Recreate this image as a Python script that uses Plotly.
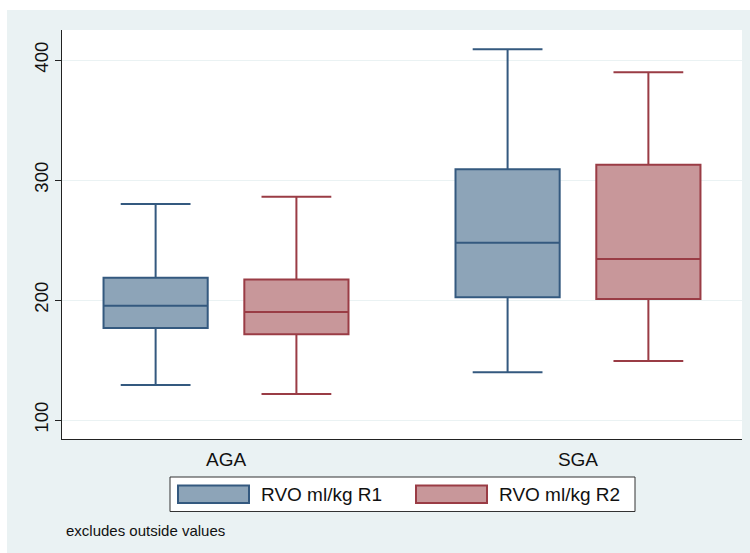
import plotly.graph_objects as go

categories = ["AGA", "SGA"]
series_names = ["RVO ml/kg R1", "RVO ml/kg R2"]

r1_lower = [129.2, 139.7]
r1_q1 = [176.7, 202.2]
r1_median = [195.3, 247.8]
r1_q3 = [218.6, 308.9]
r1_upper = [280.0, 408.9]

r2_lower = [121.7, 149.2]
r2_q1 = [171.4, 200.8]
r2_median = [190.0, 234.2]
r2_q3 = [217.0, 312.8]
r2_upper = [286.0, 389.7]

y_ticks = [100, 200, 300, 400]
note_text = "excludes outside values"

line_colors = ["#34597F", "#9A3C45"]
fill_colors = ["#8DA4B8", "#C8979A"]
BG = "#EAF2F3"
FONT = "Liberation Sans, Arial, sans-serif"

W, H = 750, 553
L, R, T, B = 62, 8, 30, 114
PW, PH = W - L - R, H - T - B


def px(x):
    return (x - L) / PW


def py(y):
    return (H - B - y) / PH


fig = go.Figure()
stats = [
    (r1_lower, r1_q1, r1_median, r1_q3, r1_upper),
    (r2_lower, r2_q1, r2_median, r2_q3, r2_upper),
]
for i, (lo, q1, med, q3, hi) in enumerate(stats):
    fig.add_trace(go.Box(
        name=series_names[i],
        x=categories,
        q1=q1, median=med, q3=q3,
        lowerfence=lo, upperfence=hi,
        fillcolor=fill_colors[i],
        line=dict(color=line_colors[i], width=2),
        whiskerwidth=0.67,
        boxpoints=False,
        showlegend=False,
    ))

shapes = [
    # white strips outside the grey page frame (top and left)
    dict(type="rect", xref="paper", yref="paper",
         x0=px(-5), x1=px(760), y0=py(10), y1=py(-5),
         fillcolor="white", line=dict(width=0), layer="below"),
    dict(type="rect", xref="paper", yref="paper",
         x0=px(-5), x1=px(7), y0=py(560), y1=py(-5),
         fillcolor="white", line=dict(width=0), layer="below"),
    # legend frame
    dict(type="rect", xref="paper", yref="paper",
         x0=px(170), x1=px(635), y0=py(511.5), y1=py(477),
         fillcolor="white", line=dict(color="#333333", width=1)),
]
annotations = []
sym_x = [178, 416]
txt_x = [259, 497]
for i in range(2):
    shapes.append(dict(type="rect", xref="paper", yref="paper",
                       x0=px(sym_x[i]), x1=px(sym_x[i] + 71),
                       y0=py(503), y1=py(485.5),
                       fillcolor=fill_colors[i],
                       line=dict(color=line_colors[i], width=2)))
    annotations.append(dict(xref="paper", yref="paper",
                            x=px(txt_x[i]), y=py(494.5),
                            xanchor="left", yanchor="middle",
                            text=series_names[i], showarrow=False,
                            font=dict(family=FONT, size=19, color="#111111")))
annotations.append(dict(xref="paper", yref="paper",
                        x=px(64), y=py(530), xanchor="left", yanchor="middle",
                        text=note_text, showarrow=False,
                        font=dict(family=FONT, size=15, color="#111111")))

fig.update_layout(
    width=W, height=H,
    margin=dict(l=L, r=R, t=T, b=B),
    paper_bgcolor=BG,
    plot_bgcolor="white",
    boxmode="group",
    boxgap=0.2,
    boxgroupgap=0.26,
    shapes=shapes,
    annotations=annotations,
    font=dict(family=FONT, color="#111111"),
    xaxis=dict(
        range=[-0.466, 1.466],
        showline=True, linecolor="#222222", linewidth=1.2,
        showgrid=False, ticks="",
        tickfont=dict(size=19, family=FONT, color="#111111"),
        ticklabelstandoff=3,
        zeroline=False, fixedrange=True,
    ),
    yaxis=dict(
        range=[84.17, 425],
        tickvals=y_ticks,
        ticktext=[str(v) for v in y_ticks],
        tickangle=-90,
        ticks="outside", ticklen=6, tickcolor="#222222",
        showline=True, linecolor="#222222", linewidth=1.2,
        showgrid=True, gridcolor=BG, gridwidth=1.2,
        tickfont=dict(size=18.5, family=FONT, color="#111111"),
        zeroline=False, fixedrange=True,
    ),
)

fig.write_html(
    "out.html",
    config={"displayModeBar": False},
    post_script="document.body.style.margin='0';document.body.style.overflow='hidden';",
)
